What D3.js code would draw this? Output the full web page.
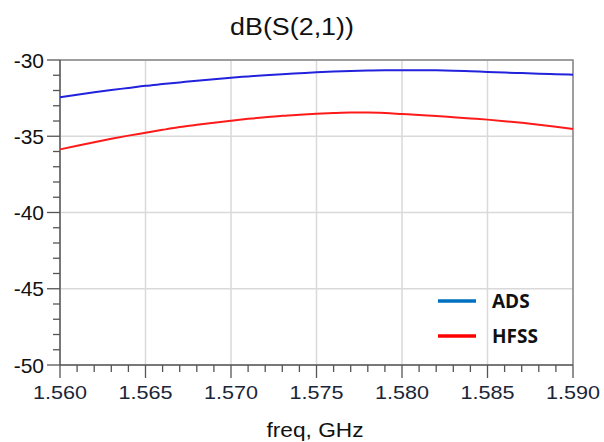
<!DOCTYPE html>
<html><head><meta charset="utf-8">
<script src="https://cdn.jsdelivr.net/npm/d3@7"></script>
<style>body{margin:0;background:#fff}svg{display:block}</style>
</head><body>
<svg id="c" width="604" height="442"></svg>
<script>
const freq = [1.560,1.561,1.562,1.563,1.564,1.565,1.566,1.567,1.568,1.569,1.570,1.571,1.572,1.573,1.574,1.575,1.576,1.577,1.578,1.579,1.580,1.581,1.582,1.583,1.584,1.585,1.586,1.587,1.588,1.589,1.590];
const adsValues = [-32.45,-32.28,-32.12,-31.97,-31.83,-31.69,-31.58,-31.47,-31.36,-31.26,-31.16,-31.08,-31.00,-30.93,-30.87,-30.81,-30.76,-30.72,-30.69,-30.67,-30.67,-30.67,-30.68,-30.70,-30.74,-30.78,-30.82,-30.86,-30.90,-30.93,-30.96];
const hfssValues = [-35.86,-35.62,-35.39,-35.17,-34.96,-34.77,-34.58,-34.40,-34.25,-34.11,-33.98,-33.86,-33.76,-33.66,-33.59,-33.53,-33.48,-33.45,-33.45,-33.48,-33.54,-33.60,-33.67,-33.75,-33.83,-33.91,-34.01,-34.12,-34.24,-34.38,-34.53];
const xTicks = [1.560,1.565,1.570,1.575,1.580,1.585,1.590];
const yTicks = [-30,-35,-40,-45,-50];
const seriesNames = ["ADS","HFSS"];
const title = "dB(S(2,1))";
const xLabel = "freq, GHz";

const svg = d3.select("#c");
const L=60,R=573,T=60,B=365;
const x = d3.scaleLinear().domain([1.560,1.590]).range([L,R]);
const y = d3.scaleLinear().domain([-50,-30]).range([B,T]);
const FONT = "Liberation Sans, Arial, sans-serif";

// grid
const g = svg.append("g");
g.selectAll(".vg").data(xTicks).join("line")
 .attr("x1",d=>x(d)).attr("x2",d=>x(d)).attr("y1",T).attr("y2",B)
 .attr("stroke","#d9d9d9").attr("stroke-width",1.5);
g.selectAll(".hg").data(yTicks).join("line")
 .attr("x1",L).attr("x2",R).attr("y1",d=>y(d)).attr("y2",d=>y(d))
 .attr("stroke","#d9d9d9").attr("stroke-width",1.5);
// frame top/right
svg.append("path").attr("d",`M${L},${T}H${R}V${B}`).attr("fill","none").attr("stroke","#888").attr("stroke-width",1.5);

// minor ticks
const yMinor = d3.range(-50,-29,1);
svg.append("g").selectAll("line").data(yMinor).join("line")
 .attr("x1",d=>L-(d%5===0?13:7)).attr("x2",L).attr("y1",d=>y(d)).attr("y2",d=>y(d))
 .attr("stroke","#555").attr("stroke-width",1.3);
const xMinor = d3.range(0,31).map(i=>1.560+i*0.001);
svg.append("g").selectAll("line").data(xMinor).join("line")
 .attr("x1",d=>x(d)).attr("x2",d=>x(d)).attr("y1",B).attr("y2",(d,i)=>B+(i%5===0?13:7))
 .attr("stroke","#555").attr("stroke-width",1.3);
// axes lines
svg.append("line").attr("x1",L).attr("x2",L).attr("y1",T).attr("y2",B).attr("stroke","#555").attr("stroke-width",1.5);
svg.append("line").attr("x1",L).attr("x2",R).attr("y1",B).attr("y2",B).attr("stroke","#555").attr("stroke-width",1.5);

// tick labels
svg.append("g").selectAll("text").data(yTicks).join("text")
 .attr("x",44).attr("y",d=>y(d)).attr("dy","0.36em").attr("text-anchor","end")
 .attr("font-family",FONT).attr("font-size",21).attr("fill","#111")
 .text(d=>d);
svg.append("g").selectAll("text").data(xTicks).join("text")
 .attr("transform",d=>`translate(${x(d)},399) scale(1.2,1)`).attr("text-anchor","middle")
 .attr("font-family",FONT).attr("font-size",18).attr("fill","#1a2638")
 .text(d=>d.toFixed(3));

// title & x label
svg.append("text").attr("transform","translate(292,35) scale(1.12,1)").attr("text-anchor","middle")
 .attr("font-family",FONT).attr("font-size",24).attr("fill","#111").text(title);
svg.append("text").attr("transform","translate(315,437) scale(1.08,1)").attr("text-anchor","middle")
 .attr("font-family",FONT).attr("font-size",21).attr("fill","#111").text(xLabel);

// lines
const line = d3.line().x((d,i)=>x(freq[i])).y(d=>y(d)).curve(d3.curveMonotoneX);
svg.append("path").attr("d",line(adsValues)).attr("fill","none").attr("stroke","#2222dd").attr("stroke-width",2);
svg.append("path").attr("d",line(hfssValues)).attr("fill","none").attr("stroke","#ff1a1a").attr("stroke-width",2);

// legend
const legColors = ["#0070C0","#FF0000"];
const leg = svg.append("g").selectAll("g").data(seriesNames).join("g")
 .attr("transform",(d,i)=>`translate(0,${301+i*35})`);
leg.append("line").attr("x1",438).attr("x2",476).attr("y1",0).attr("y2",0)
 .attr("stroke",(d,i)=>legColors[i]).attr("stroke-width",3.5);
leg.append("text").attr("x",492).attr("y",7).attr("font-family","Open Sans, Liberation Sans, sans-serif")
 .attr("font-weight","bold").attr("font-size",19).attr("fill","#111").text(d=>d);
</script>
</body></html>
